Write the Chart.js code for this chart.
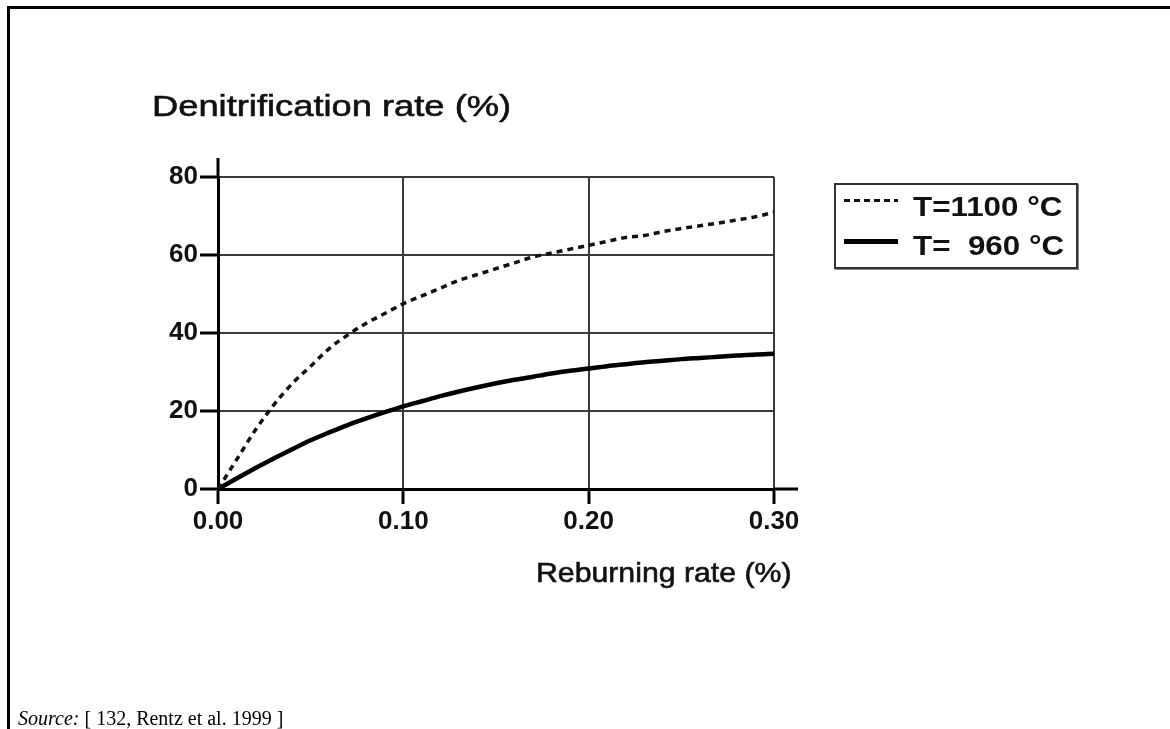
<!DOCTYPE html>
<html>
<head>
<meta charset="utf-8">
<script src="https://cdn.jsdelivr.net/npm/chart.js@4"></script>
<style>
  html, body { margin: 0; padding: 0; background: #fff; }
  body { width: 1170px; height: 729px; position: relative; overflow: hidden; font-family: "Liberation Sans", Arial, sans-serif; }
  #frame { position: absolute; left: 7px; top: 6px; width: 1170px; height: 740px; border-top: 3px solid #000; border-left: 3px solid #000; }
  #wrap { position: absolute; left: 0; top: 0; width: 1170px; height: 729px; }
  .label { position: absolute; white-space: pre; line-height: 1; color: #111; transform-origin: left top; -webkit-text-stroke: 0.6px #111; }
  #ytitle { left: 152px; top: 91px; font-size: 30px; transform: scaleX(1.21); }
  #xtitle { left: 536px; top: 559px; font-size: 28px; transform: scaleX(1.08); }
  #legend { position: absolute; left: 834px; top: 183px; width: 240px; height: 82px; border: 2px solid #333; box-shadow: 1px 1px 0 #888; }
  .row { position: absolute; left: 0; width: 240px; height: 30px; }
  .sample { position: absolute; left: 8px; width: 54px; }
  .dash { height: 3px; background: repeating-linear-gradient(to right, #111 0 6px, transparent 6px 10px); }
  .solid { height: 5px; background: #000; }
  .txt { position: absolute; left: 77px; font-size: 28px; font-weight: bold; line-height: 1; white-space: pre; transform: scaleX(1.12); transform-origin: left top; color: #111; }
  #source { position: absolute; left: 18px; top: 708px; font-family: "Liberation Serif", "Times New Roman", serif; font-size: 20px; line-height: 1; color: #000; }
</style>
</head>
<body>
<div id="frame"></div>
<div id="wrap"><canvas id="chart" width="1170" height="729"></canvas></div>
<div class="label" id="ytitle">Denitrification rate (%)</div>
<div class="label" id="xtitle">Reburning rate (%)</div>
<div id="legend">
  <div class="row" style="top:0">
    <div class="sample dash" style="top:14px"></div>
    <div class="txt" style="top:8px">T=1100 °C</div>
  </div>
  <div class="row" style="top:38px">
    <div class="sample solid" style="top:16px"></div>
    <div class="txt" style="top:9px">T=  960 °C</div>
  </div>
</div>
<div id="source"><i>Source:</i> [ 132, Rentz et al. 1999 ]</div>
<script>
// reburning rate (%)
const rates = [0, 0.01, 0.02, 0.03, 0.04, 0.05, 0.06, 0.07, 0.08, 0.09, 0.10,
  0.11, 0.12, 0.13, 0.14, 0.15, 0.16, 0.17, 0.18, 0.19, 0.20,
  0.21, 0.22, 0.23, 0.24, 0.25, 0.26, 0.27, 0.28, 0.29, 0.30];

// denitrification rate (%)
const t1100 = [0, 7.5, 15, 21.5, 27, 31.5, 36, 39.5, 42.5, 45, 47.5,
  49.5, 51.5, 53.5, 55, 56.5, 58, 59.5, 60.5, 61.5, 62.5,
  63.5, 64.5, 65, 66, 66.8, 67.5, 68.2, 69, 69.8, 71];
const t960 = [0, 2.7, 5.3, 7.8, 10.2, 12.5, 14.5, 16.4, 18.1, 19.7, 21.2,
  22.5, 23.8, 25, 26.1, 27.1, 28, 28.8, 29.6, 30.3, 30.9,
  31.5, 32, 32.5, 32.9, 33.3, 33.6, 33.9, 34.2, 34.5, 34.7];

const xTicks = [0, 0.1, 0.2, 0.3];
const yTicks = [0, 20, 40, 60, 80];

const toPoints = (ys) => rates.map((x, i) => ({ x, y: ys[i] }));

// axis lines run a little past the plot area, like in the original
const axisOverhang = {
  id: "axisOverhang",
  afterDraw(chart) {
    const { ctx, chartArea } = chart;
    ctx.save();
    ctx.strokeStyle = "#000";
    ctx.lineWidth = 3;
    ctx.beginPath();
    ctx.moveTo(chartArea.left, chartArea.top);
    ctx.lineTo(chartArea.left, chartArea.top - 19);
    ctx.moveTo(chartArea.right, chartArea.bottom);
    ctx.lineTo(chartArea.right + 24, chartArea.bottom);
    ctx.stroke();
    ctx.restore();
  },
};

const tickFont = { family: "'Liberation Sans', Arial, sans-serif", size: 26, weight: "bold" };

new Chart(document.getElementById("chart").getContext("2d"), {
  type: "scatter",
  data: {
    datasets: [
      {
        label: "T=1100 °C",
        data: toPoints(t1100),
        showLine: true,
        borderColor: "#111",
        borderWidth: 3.5,
        borderDash: [6, 5],
        pointRadius: 0,
        cubicInterpolationMode: "monotone",
      },
      {
        label: "T=  960 °C",
        data: toPoints(t960),
        showLine: true,
        borderColor: "#000",
        borderWidth: 4.5,
        pointRadius: 0,
        cubicInterpolationMode: "monotone",
      },
    ],
  },
  options: {
    responsive: false,
    animation: false,
    layout: { padding: { left: 158, right: 396, top: 177, bottom: 180 } },
    plugins: { legend: { display: false }, tooltip: { enabled: false } },
    scales: {
      x: {
        type: "linear",
        min: 0,
        max: 0.3,
        afterBuildTicks: (s) => { s.ticks = xTicks.map((value) => ({ value })); },
        afterFit: (s) => { s.height = 60; },
        ticks: { color: "#111", font: tickFont, padding: 2, maxRotation: 0, callback: (v) => v.toFixed(2) },
        grid: { color: "#3a3a3a", lineWidth: 2, tickColor: "#000", tickWidth: 3, tickLength: 15 },
        border: { color: "#000", width: 3 },
      },
      y: {
        type: "linear",
        min: 0,
        max: 80,
        afterBuildTicks: (s) => { s.ticks = yTicks.map((value) => ({ value })); },
        afterFit: (s) => { s.width = 60; },
        ticks: { color: "#111", font: tickFont, padding: 2 },
        grid: { color: "#3a3a3a", lineWidth: 2, tickColor: "#000", tickWidth: 3, tickLength: 18 },
        border: { color: "#000", width: 3 },
      },
    },
  },
  plugins: [axisOverhang],
});
</script>
</body>
</html>
